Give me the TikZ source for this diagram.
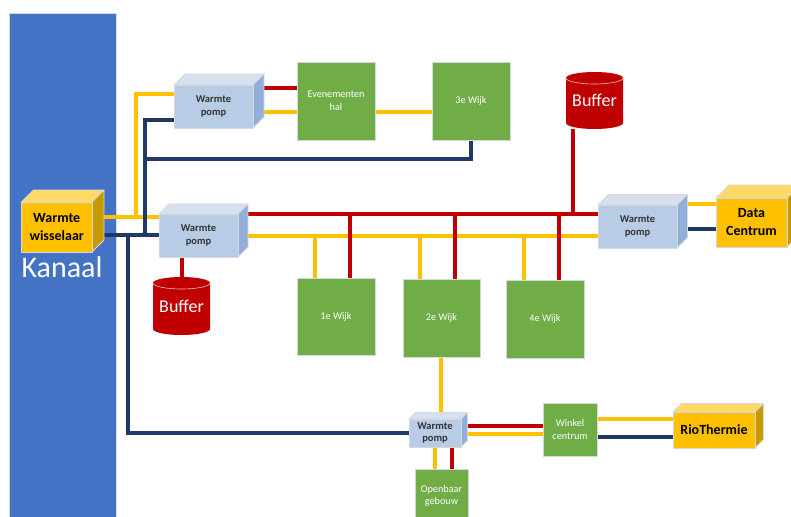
\documentclass[tikz,border=0pt]{standalone}
\usepackage{fontspec}
\setmainfont{Carlito}
\pgfdeclarelayer{canal}
\pgfdeclarelayer{pipes}
\pgfsetlayers{canal,pipes,main}
\definecolor{canalblue}{HTML}{4472C4}
\definecolor{wijkgreen}{HTML}{70AD47}
\definecolor{pipeyellow}{HTML}{FFC000}
\definecolor{pipered}{HTML}{C00000}
\definecolor{pipenavy}{HTML}{203864}
\definecolor{edgegrey}{HTML}{D4D9DE}
\definecolor{pumpfront}{HTML}{B8CCE6}
\definecolor{pumptop}{HTML}{D6E0EF}
\definecolor{pumpside}{HTML}{92AEDA}
\definecolor{goldfront}{HTML}{FFC000}
\definecolor{goldtop}{HTML}{FFD966}
\definecolor{goldside}{HTML}{C99A00}
\tikzset{
  yellowpipe/.style={draw=pipeyellow,line width=4pt,line join=miter},
  navypipe/.style={draw=pipenavy,line width=4pt,line join=miter},
  redpipe/.style={draw=pipered,line width=4pt,line join=miter},
  pumpbox/.style={font=\fontsize{10.5}{12.5}\selectfont\bfseries,text=black!80},
  goldbox/.style={font=\fontsize{14}{18}\selectfont\bfseries,text=black},
  wijkbox/.style={draw=edgegrey,line width=0.8pt,fill=wijkgreen,text=white,align=center,inner sep=0pt,outer sep=0pt,
    font=\fontsize{10.2}{12.5}\selectfont},
  facet/.style={draw=edgegrey,line width=0.8pt,line join=round},
}
% name, x0, y0, x1, y1, depth, colour family, text
\newcommand{\cubebox}[8]{%
  \pgfmathsetmacro{\cubx}{#4+#6}\pgfmathsetmacro{\cuby}{#3-#6}%
  \pgfmathsetmacro{\cubp}{#2+#6}\pgfmathsetmacro{\cubq}{#5-#6}%
  \fill[#7top,facet] (#2,#3) -- (\cubp,\cuby) -- (\cubx,\cuby) -- (#4,#3) -- cycle;
  \fill[#7side,facet] (#4,#3) -- (\cubx,\cuby) -- (\cubx,\cubq) -- (#4,#5) -- cycle;
  \pgfmathsetmacro{\cubw}{#4-#2}\pgfmathsetmacro{\cubh}{#5-#3}%
  \pgfmathsetmacro{\cubm}{(#2+#4)/2}\pgfmathsetmacro{\cubn}{(#3+#5)/2}%
  \node[#7box,facet,fill=#7front,align=center,inner sep=0pt,outer sep=0pt,
    minimum width=\cubw pt,minimum height=\cubh pt] (#1) at (\cubm,\cubn) {#8};
}
\newcommand{\wijk}[6]{%
  \pgfmathsetmacro{\cubw}{#4-#2}\pgfmathsetmacro{\cubh}{#5-#3}%
  \pgfmathsetmacro{\cubm}{(#2+#4)/2}\pgfmathsetmacro{\cubn}{(#3+#5)/2}%
  \node[wijkbox,minimum width=\cubw pt,minimum height=\cubh pt] (#1) at (\cubm,\cubn) {#6};
}
% name, x0, y0, x1, y1
\newcommand{\tank}[5]{%
  \pgfmathsetmacro{\cubr}{(#4-#2)/2}\pgfmathsetmacro{\cubm}{(#2+#4)/2}\pgfmathsetmacro{\cubn}{(#3+#5)/2}%
  \pgfmathsetmacro{\cubh}{#5-#3}\pgfmathsetmacro{\cubw}{#4-#2}%
  \pgfmathsetmacro{\cuby}{#3+6}\pgfmathsetmacro{\cubq}{#5-6}%
  \fill[pipered] (#2,\cuby) arc[start angle=180,end angle=0,x radius=\cubr pt,y radius=6pt]
    -- (#4,\cubq) arc[start angle=0,end angle=-180,x radius=\cubr pt,y radius=6pt] -- cycle;
  \draw[white!75!pipered,line width=0.6pt] (#2,\cuby) arc[start angle=180,end angle=360,x radius=\cubr pt,y radius=6pt];
  \node[text=white,font=\fontsize{18}{20}\selectfont,inner sep=0pt,outer sep=0pt,
    minimum width=\cubw pt,minimum height=\cubh pt] (#1) at (\cubm,\cubn) {Buffer};
}
\begin{document}
\begin{tikzpicture}[x=1pt,y=-1pt]
\useasboundingbox (0,0) rectangle (791,516);
\clip (0,0) rectangle (791,516);
\begin{pgfonlayer}{canal}
  \fill[white] (0,0) rectangle (791,516);
  \node[fill=canalblue,draw=edgegrey,line width=0.8pt,inner sep=0pt,outer sep=0pt,minimum width=107pt,minimum height=520pt] (kanaal) at (62.5,273) {};
\end{pgfonlayer}
\node[text=white,font=\fontsize{30}{32}\selectfont,inner sep=0pt] (kanaallabel) at (62,267) {Kanaal};

\cubebox{wis}{21.5}{202}{92}{252}{12}{gold}{Warmte\\wisselaar}
\cubebox{pomptop}{174}{85}{253}{128}{11}{pump}{Warmte\\pomp}
\cubebox{pompmid}{159}{214}{238}{257}{10}{pump}{Warmte\\pomp}
\cubebox{pompright}{598}{205}{677}{248}{10.5}{pump}{Warmte\\pomp}
\cubebox{pomplow}{409}{419}{461}{447}{6.5}{pump}{Warmte\\pomp}
\cubebox{data}{716}{198}{787}{247}{13}{gold}{Data\\Centrum}
\cubebox{rio}{673}{412}{755}{448}{8.5}{gold}{RioThermie}

\wijk{even}{297}{62}{375}{140}{Evenementen\\hal}
\wijk{wijkdrie}{432}{62}{510}{140}{3e Wijk}
\wijk{wijkeen}{297}{278}{375}{355}{1e Wijk}
\wijk{wijktwee}{403}{279}{480}{357}{2e Wijk}
\wijk{wijkvier}{506}{280}{584}{358}{4e Wijk}
\wijk{winkel}{543}{403}{597}{456}{Winkel\\centrum}
\wijk{openbaar}{415}{469}{468}{523}{Openbaar\\gebouw}

\tank{buffertop}{566}{72}{623}{129}
\tank{bufferlow}{153}{277}{210}{335}

\begin{pgfonlayer}{pipes}
  % yellow
  \draw[yellowpipe] (wis.east |- 0,217) -- (pompmid.west |- 0,217);
  \coordinate (yup) at (136,217);
  \draw[yellowpipe] (yup) -- (yup |- 0,94) -- (pomptop.west |- 0,94);
  \draw[yellowpipe] (pomptop.east |- 0,112) -- (even.west |- 0,112);
  \draw[yellowpipe] (even.east |- 0,112) -- (wijkdrie.west |- 0,112);
  \draw[yellowpipe] (pompmid.east |- 0,236) -- (pompright.west |- 0,236);
  \draw[yellowpipe] (315,236) -- (wijkeen.north -| 315,0);
  \draw[yellowpipe] (420,236) -- (wijktwee.north -| 420,0);
  \draw[yellowpipe] (524,236) -- (wijkvier.north -| 524,0);
  \draw[yellowpipe] (pompright.east |- 0,204) -- (data.west |- 0,204);
  \draw[yellowpipe] (wijktwee.south -| 441,0) -- (pomplow.north -| 441,0);
  \draw[yellowpipe] (pomplow.east |- 0,434) -- (winkel.west |- 0,434);
  \draw[yellowpipe] (pomplow.south -| 435,0) -- (openbaar.north -| 435,0);
  \draw[yellowpipe] (winkel.east |- 0,419) -- (rio.west |- 0,419);
  % navy
  \draw[navypipe] (wis.east |- 0,235) -- (pompmid.west |- 0,235);
  \coordinate (nup) at (145,235);
  \draw[navypipe] (nup) -- (nup |- 0,120) -- (pomptop.west |- 0,120);
  \coordinate (nmid) at (145,159);
  \draw[navypipe] (nmid) -- (nmid -| 471,0) -- (wijkdrie.south -| 471,0);
  \coordinate (ndown) at (127.5,235);
  \draw[navypipe] (ndown) -- (ndown |- 0,433) -- (pomplow.west |- 0,433);
  \draw[navypipe] (pompright.east |- 0,229) -- (data.west |- 0,229);
  \draw[navypipe] (winkel.east |- 0,437) -- (rio.west |- 0,437);
  % red
  \draw[redpipe] (pomptop.east |- 0,88) -- (even.west |- 0,88);
  \draw[redpipe] (pompmid.east |- 0,214) -- (pompright.west |- 0,214);
  \draw[redpipe] (350,214) -- (wijkeen.north -| 350,0);
  \draw[redpipe] (455,214) -- (wijktwee.north -| 455,0);
  \draw[redpipe] (559,214) -- (wijkvier.north -| 559,0);
  \draw[redpipe] (573,214) -- (buffertop.south -| 573,0);
  \draw[redpipe] (pompmid.south -| 182,0) -- (bufferlow.north -| 182,0);
  \draw[redpipe] (pomplow.east |- 0,426) -- (winkel.west |- 0,426);
  \draw[redpipe] (pomplow.south -| 452,0) -- (openbaar.north -| 452,0);
\end{pgfonlayer}
\end{tikzpicture}
\end{document}
